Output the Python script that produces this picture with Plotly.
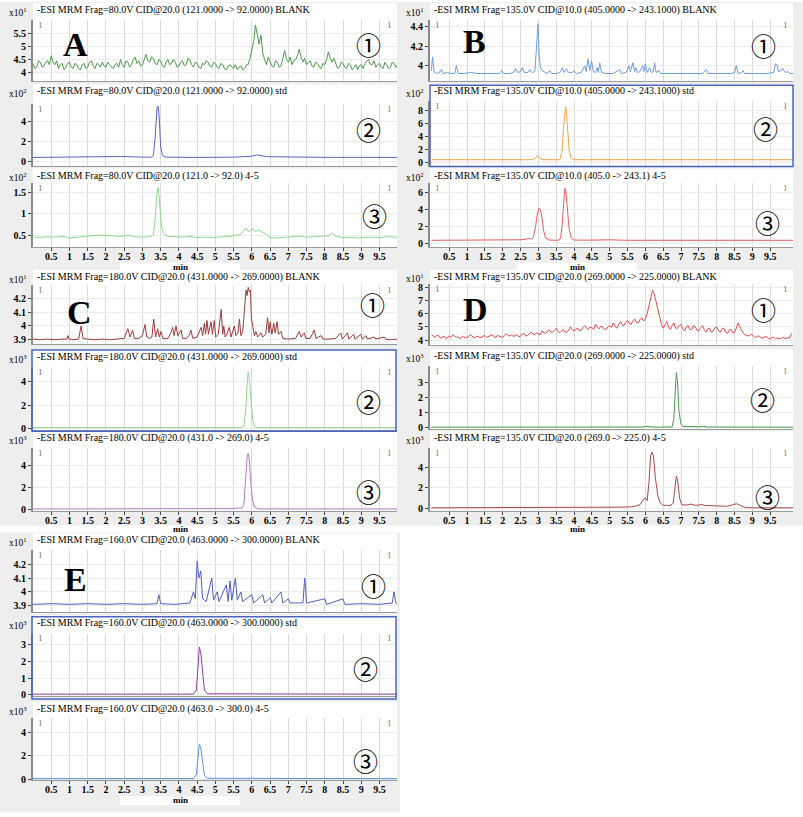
import plotly.graph_objects as go

W, H = 803, 817

# ------------------------------------------------------------------ data
# uniformly sampled noisy BLANK traces (minutes start at 0, step below)
A1_STEP = 0.05
a1_blank = [4.35, 4.15, 4.2, 4.45, 4.4, 4.2, 4.25, 4.4, 4.45, 4.3, 4.65, 4.4, 4.3, 4.45, 4.15, 4.3, 4.35, 4.1, 4.2, 4.35,
            4.4, 4.2, 4.15, 4.35, 4.3, 4.15, 4.1, 4.3, 4.35, 4.15, 4.2, 4.4, 4.45, 4.25, 4.15, 4.35, 4.3, 4.2, 4.4, 4.25,
            4.2, 4.4, 4.3, 4.2, 4.15, 4.3, 4.35, 4.2, 4.5, 4.3, 4.2, 4.45, 4.4, 4.2, 4.3, 4.5, 4.6, 4.35, 4.45, 4.25,
            4.3, 4.5, 4.7, 4.45, 4.4, 4.6, 4.55, 4.35, 4.3, 4.5, 4.45, 4.25, 4.2, 4.4, 4.5, 4.3, 4.35, 4.5, 4.4, 4.2,
            4.25, 4.4, 4.45, 4.25, 4.3, 4.55, 4.5, 4.3, 4.2, 4.4, 4.35, 4.2, 4.15, 4.35, 4.3, 4.45, 4.4, 4.25, 4.2, 4.4,
            4.35, 4.2, 4.15, 4.35, 4.3, 4.15, 4.1, 4.25, 4.3, 4.2, 4.15, 4.3, 4.1, 4.2, 4.25, 4.1, 4.15, 4.3, 4.3, 4.55,
            4.95, 5.2, 5.85, 5.4, 5.1, 5.45, 4.75, 4.5, 4.3, 4.6, 4.45, 4.25, 4.2, 4.45, 4.4, 4.2, 4.25, 4.6, 4.85, 4.5,
            4.4, 4.6, 4.3, 4.45, 4.5, 4.65, 4.9, 4.6, 4.4, 4.55, 4.3, 4.4, 4.45, 4.25, 4.2, 4.4, 4.35, 4.2, 4.15, 4.35,
            4.3, 4.5, 4.8, 4.55, 4.4, 4.55, 4.3, 4.15, 4.2, 4.4, 4.35, 4.2, 4.15, 4.35, 4.3, 4.1, 4.2, 4.3, 4.1, 4.25,
            4.3, 4.15, 4.35, 4.45, 4.5, 4.3, 4.3, 4.45, 4.2, 4.3, 4.35, 4.2, 4.15, 4.4, 4.3, 4.15, 4.2, 4.4, 4.35, 4.2,
            4.3]

D1_STEP = 0.05
d1_blank = [4.4, 4.3, 4.2, 4.35, 4.35, 4.15, 4.25, 4.3, 4.1, 4.2, 4.3, 4.2, 4.4, 4.3, 4.2, 4.25, 4.1, 4.2, 4.3, 4.15,
            4.2, 4.3, 4.4, 4.25, 4.15, 4.25, 4.3, 4.2, 4.2, 4.3, 4.35, 4.2, 4.25, 4.35, 4.4, 4.25, 4.2, 4.35, 4.3, 4.25,
            4.2, 4.35, 4.5, 4.35, 4.3, 4.4, 4.25, 4.35, 4.4, 4.25, 4.3, 4.45, 4.5, 4.3, 4.35, 4.5, 4.6, 4.45, 4.4, 4.55,
            4.5, 4.4, 4.7, 4.55, 4.5, 4.65, 4.8, 4.6, 4.6, 4.75, 4.9, 4.65, 4.55, 4.7, 4.8, 4.6, 4.6, 4.75, 5.0, 4.8,
            4.7, 4.85, 4.9, 4.7, 4.75, 4.95, 5.1, 4.9, 4.8, 5.0, 4.95, 4.8, 5.2, 5.0, 4.85, 5.05, 5.0, 4.85, 4.8, 5.0,
            5.1, 4.95, 5.3, 5.05, 4.9, 5.2, 5.4, 5.15, 5.1, 5.35, 5.5, 5.25, 5.2, 5.45, 5.6, 5.35, 5.3, 5.55, 5.7, 5.45,
            5.6, 6.0, 6.6, 7.3, 7.8, 7.5, 6.9, 6.2, 5.6, 5.2, 4.9, 5.2, 5.4, 5.0, 4.8, 5.1, 5.3, 4.9, 4.9, 5.1,
            5.2, 4.85, 4.7, 5.0, 5.1, 4.8, 4.8, 5.1, 5.0, 4.75, 4.7, 4.95, 5.1, 4.8, 4.6, 4.85, 4.9, 4.6, 4.7, 4.95,
            5.0, 4.7, 4.6, 4.85, 4.9, 4.6, 4.5, 4.75, 4.8, 4.55, 4.6, 4.9, 5.3, 5.0, 4.7, 4.5, 4.4, 4.35, 4.3, 4.4,
            4.4, 4.25, 4.2, 4.3, 4.3, 4.15, 4.15, 4.25, 4.25, 4.1, 4.1, 4.2, 4.2, 4.1, 4.15, 4.1, 4.1, 4.2, 4.15, 4.1,
            4.2, 4.15, 4.5]

# (minute, intensity) samples
a2_std = [(0, 0.42), (1, 0.45), (2, 0.5), (2.5, 0.52), (3.0, 0.45), (3.25, 0.45),
          (3.3, 0.6), (3.35, 2.5), (3.4, 5.4), (3.43, 5.6), (3.46, 4.5), (3.5, 1.5),
          (3.55, 0.6), (3.65, 0.45), (4.5, 0.42), (5.5, 0.45), (6.0, 0.55),
          (6.15, 0.68), (6.4, 0.5), (7, 0.45), (8, 0.43), (9, 0.43), (10, 0.42)]

a3_sample = [(0, 0.5), (0.05, 0.45), (0.2, 0.44), (0.4, 0.46), (0.6, 0.45), (0.8, 0.47),
             (1.0, 0.43), (1.2, 0.45), (1.4, 0.47), (1.6, 0.48), (1.8, 0.5), (2.0, 0.49),
             (2.2, 0.48), (2.4, 0.47), (2.6, 0.5), (2.8, 0.46), (3.0, 0.45), (3.2, 0.46),
             (3.3, 0.5), (3.35, 0.9), (3.4, 1.5), (3.43, 1.63), (3.46, 1.4), (3.5, 0.9),
             (3.55, 0.6), (3.6, 0.52), (3.7, 0.47), (3.9, 0.46), (4.1, 0.45), (4.3, 0.47),
             (4.5, 0.44), (4.7, 0.45), (4.9, 0.44), (5.1, 0.45), (5.3, 0.46), (5.5, 0.48),
             (5.7, 0.52), (5.84, 0.67), (5.9, 0.58), (6.0, 0.62), (6.05, 0.65), (6.1, 0.58),
             (6.2, 0.62), (6.3, 0.57), (6.4, 0.52), (6.5, 0.44), (6.7, 0.43), (6.9, 0.45),
             (7.1, 0.46), (7.3, 0.47), (7.5, 0.45), (7.7, 0.46), (7.9, 0.46), (8.1, 0.48),
             (8.2, 0.55), (8.3, 0.47), (8.5, 0.44), (8.7, 0.45), (8.9, 0.43), (9.1, 0.44),
             (9.3, 0.45), (9.5, 0.44), (9.7, 0.46), (9.9, 0.45), (10, 0.44)]

b1_blank = [(0.00, 3.95), (0.03, 4.09), (0.08, 3.93), (0.15, 3.92), (0.22, 3.93), (0.28, 3.96),
            (0.33, 3.92), (0.45, 3.93), (0.55, 3.92), (0.65, 3.92), (0.70, 4.0), (0.75, 3.92),
            (0.9, 3.92), (1.1, 3.93), (1.3, 3.92), (1.5, 3.92), (1.7, 3.92), (1.9, 3.92),
            (1.97, 3.95), (2.03, 3.92), (2.2, 3.92), (2.3, 3.93), (2.36, 3.97), (2.42, 3.93),
            (2.5, 3.94), (2.55, 3.98), (2.6, 3.93), (2.7, 3.93), (2.76, 3.96), (2.82, 3.93),
            (2.9, 3.94), (2.96, 4.35), (2.99, 4.43), (3.02, 4.1), (3.06, 3.98), (3.1, 3.95),
            (3.18, 3.93), (3.25, 3.92), (3.32, 3.95), (3.38, 3.92), (3.5, 3.92), (3.6, 3.93),
            (3.67, 3.98), (3.72, 3.93), (3.79, 3.97), (3.84, 3.93), (3.95, 3.93), (4.0, 3.95),
            (4.06, 3.92), (4.2, 3.93), (4.3, 4.0), (4.34, 3.94), (4.39, 4.07), (4.44, 3.95),
            (4.49, 4.05), (4.54, 3.94), (4.6, 3.93), (4.65, 3.98), (4.68, 3.93), (4.72, 4.03),
            (4.77, 3.93), (4.9, 3.92), (5.1, 3.92), (5.28, 3.96), (5.33, 3.92), (5.45, 3.93),
            (5.5, 3.96), (5.54, 4.0), (5.58, 3.94), (5.65, 4.03), (5.7, 3.94), (5.73, 3.98),
            (5.78, 3.93), (5.85, 3.94), (5.92, 4.0), (5.96, 3.94), (6.0, 4.02), (6.05, 3.93),
            (6.12, 3.98), (6.17, 3.93), (6.22, 3.94), (6.26, 4.03), (6.3, 3.93), (6.38, 3.95),
            (6.43, 3.92), (6.6, 3.92), (6.8, 3.92), (7.0, 3.92), (7.2, 3.92), (7.4, 3.92),
            (7.6, 3.92), (7.71, 3.96), (7.76, 3.92), (8.0, 3.92), (8.2, 3.92), (8.4, 3.92),
            (8.5, 3.93), (8.55, 4.0), (8.6, 3.92), (8.7, 3.93), (8.74, 3.95), (8.78, 3.92),
            (9.0, 3.92), (9.2, 3.92), (9.4, 3.92), (9.6, 3.93), (9.65, 4.02), (9.69, 4.01),
            (9.73, 3.94), (9.8, 3.95), (9.86, 3.97), (9.92, 3.93), (10.0, 3.94), (10.05, 3.92),
            (10.14, 3.92)]

b2_std = [(0, 0.4), (2.85, 0.4), (2.92, 0.7), (2.97, 1.0), (3.02, 0.75), (3.1, 0.4),
          (3.6, 0.4), (3.66, 1.5), (3.7, 5.0), (3.74, 8.0), (3.76, 8.5), (3.78, 8.1),
          (3.82, 5.0), (3.86, 2.0), (3.92, 0.6), (4.0, 0.4), (10.14, 0.4)]

b3_sample = [(0, 0.42), (1.0, 0.42), (1.4, 0.45), (2.0, 0.44), (2.3, 0.5), (2.5, 0.48),
             (2.7, 0.6), (2.75, 0.65), (2.8, 0.55), (2.86, 0.8), (2.92, 2.0), (2.97, 3.5),
             (3.02, 4.2), (3.06, 4.0), (3.1, 3.0), (3.15, 1.5), (3.2, 0.7), (3.3, 0.45),
             (3.55, 0.42), (3.62, 0.6), (3.66, 2.0), (3.7, 4.8), (3.74, 6.5), (3.77, 6.2),
             (3.81, 4.0), (3.86, 1.8), (3.92, 0.7), (4.0, 0.45), (4.5, 0.44), (5.0, 0.48),
             (5.5, 0.42), (6.5, 0.45), (7.3, 0.45), (8, 0.42), (10.14, 0.42)]

c1_blank = [(0.0, 3.905), (0.2, 3.9), (0.4, 3.905), (0.6, 3.9), (0.8, 3.905), (0.93, 3.905),
            (0.96, 3.93), (0.99, 3.905), (1.1, 3.9), (1.25, 3.905), (1.32, 4.0), (1.37, 3.91),
            (1.5, 3.905), (1.7, 3.9), (1.9, 3.905), (2.1, 3.9), (2.3, 3.905), (2.5, 3.91),
            (2.6, 3.98), (2.66, 3.92), (2.73, 3.97), (2.78, 3.91), (2.9, 3.91), (3.0, 3.93),
            (3.07, 4.01), (3.12, 3.92), (3.2, 3.91), (3.26, 3.92), (3.31, 4.05), (3.36, 3.92),
            (3.42, 3.98), (3.46, 3.92), (3.51, 3.96), (3.56, 3.91), (3.7, 3.91), (3.78, 3.95),
            (3.83, 3.99), (3.87, 3.93), (3.92, 4.0), (3.97, 3.93), (4.06, 3.97), (4.1, 3.91),
            (4.2, 3.91), (4.28, 3.93), (4.33, 3.97), (4.38, 3.91), (4.5, 3.92), (4.56, 3.96),
            (4.61, 3.99), (4.65, 3.93), (4.7, 4.02), (4.73, 3.94), (4.77, 4.04), (4.81, 3.94),
            (4.88, 4.03), (4.92, 3.94), (4.97, 4.04), (5.01, 3.92), (5.08, 3.94), (5.16, 4.12),
            (5.2, 3.94), (5.23, 4.0), (5.27, 3.92), (5.33, 3.95), (5.38, 3.99), (5.43, 3.92),
            (5.52, 4.0), (5.56, 3.93), (5.62, 3.95), (5.66, 4.05), (5.7, 3.93), (5.75, 3.96),
            (5.79, 4.1), (5.84, 4.26), (5.87, 4.22), (5.9, 4.28), (5.93, 4.25), (5.96, 4.26),
            (5.99, 4.05), (6.03, 3.97), (6.07, 3.93), (6.11, 3.96), (6.16, 3.92), (6.25, 3.95),
            (6.3, 3.92), (6.38, 3.94), (6.43, 4.06), (6.47, 3.95), (6.5, 4.03), (6.55, 3.94),
            (6.6, 4.02), (6.64, 3.95), (6.69, 4.03), (6.73, 3.94), (6.8, 3.96), (6.85, 3.91),
            (7.0, 3.905), (7.2, 3.91), (7.3, 3.96), (7.35, 3.92), (7.44, 3.95), (7.48, 3.91),
            (7.6, 3.91), (7.71, 3.97), (7.76, 3.91), (7.9, 3.93), (7.95, 3.905), (8.1, 3.905),
            (8.3, 3.91), (8.44, 3.95), (8.48, 3.905), (8.62, 3.95), (8.66, 3.905), (8.79, 3.94),
            (8.83, 3.905), (8.99, 3.94), (9.03, 3.905), (9.13, 3.93), (9.17, 3.905), (9.36, 3.92),
            (9.4, 3.905), (9.63, 3.92), (9.67, 3.905), (9.8, 3.9), (10.0, 3.905)]

c2_std = [(0, 0.08), (5.7, 0.08), (5.78, 0.2), (5.83, 1.5), (5.87, 3.8), (5.9, 4.83),
          (5.93, 4.3), (5.97, 2.5), (6.02, 0.8), (6.07, 0.15), (6.15, 0.08), (10, 0.08)]

c3_sample = [(0, 0.07), (5.0, 0.07), (5.07, 0.12), (5.12, 0.07), (5.5, 0.1), (5.64, 0.17),
             (5.72, 0.12), (5.78, 0.4), (5.83, 3.0), (5.87, 4.8), (5.9, 5.13), (5.93, 4.6),
             (5.97, 2.5), (6.02, 0.8), (6.08, 0.2), (6.2, 0.08), (10, 0.07)]

d2_std = [(0, 0.03), (4.1, 0.03), (4.2, 0.06), (4.3, 0.03), (5.9, 0.04), (6.0, 0.08),
          (6.15, 0.07), (6.3, 0.03), (6.75, 0.05), (6.8, 0.6), (6.84, 2.5), (6.87, 3.62),
          (6.9, 3.0), (6.94, 1.2), (6.99, 0.3), (7.05, 0.08), (7.5, 0.06), (7.62, 0.09),
          (7.75, 0.04), (10.14, 0.03)]

d3_sample = [(0, 0.05), (5.3, 0.05), (5.4, 0.12), (5.6, 0.15), (5.7, 0.2), (5.85, 0.35),
             (5.95, 0.9), (6.0, 1.0), (6.05, 0.75), (6.1, 2.5), (6.15, 5.2), (6.19, 5.45),
             (6.23, 5.0), (6.28, 3.0), (6.35, 1.2), (6.42, 0.5), (6.5, 0.3), (6.7, 0.28),
             (6.78, 0.5), (6.83, 2.0), (6.87, 3.15), (6.91, 2.6), (6.96, 1.0), (7.02, 0.35),
             (7.15, 0.32), (7.28, 0.42), (7.38, 0.3), (7.5, 0.32), (7.57, 0.4), (7.65, 0.28),
             (8.0, 0.2), (8.3, 0.2), (8.45, 0.35), (8.56, 0.45), (8.65, 0.3), (8.8, 0.08),
             (9.0, 0.05), (10.14, 0.05)]

e1_blank = [(0, 3.91), (0.5, 3.915), (1.0, 3.91), (1.5, 3.915), (2.0, 3.91), (2.5, 3.915),
            (3.0, 3.91), (3.4, 3.915), (3.45, 3.98), (3.5, 3.915), (3.9, 3.91), (4.3, 3.92),
            (4.4, 4.0), (4.45, 3.95), (4.5, 4.22), (4.55, 4.1), (4.6, 4.15), (4.65, 3.95),
            (4.75, 3.93), (4.85, 4.05), (4.9, 4.1), (4.95, 3.94), (5.05, 4.0), (5.1, 3.93),
            (5.3, 4.05), (5.35, 3.93), (5.4, 4.08), (5.45, 3.94), (5.5, 4.03), (5.55, 4.1),
            (5.6, 3.94), (5.7, 4.0), (5.75, 3.93), (6.0, 3.98), (6.05, 3.92), (6.3, 3.98),
            (6.35, 3.92), (6.5, 3.96), (6.55, 3.92), (6.8, 4.0), (6.85, 3.92), (7.0, 3.95),
            (7.05, 3.92), (7.4, 3.92), (7.45, 4.1), (7.5, 3.92), (8.0, 3.95), (8.05, 3.91),
            (8.5, 3.95), (8.55, 3.91), (9.0, 3.915), (9.5, 3.91), (9.85, 3.92), (9.9, 4.0),
            (9.95, 3.92), (10.0, 3.91)]

e2_std = [(0, 0.05), (4.4, 0.05), (4.48, 0.3), (4.52, 1.8), (4.56, 2.85), (4.6, 2.5),
          (4.65, 1.2), (4.7, 0.3), (4.78, 0.07), (10, 0.05)]

e3_sample = [(0, 0.05), (4.4, 0.06), (4.48, 0.4), (4.52, 2.0), (4.56, 3.0), (4.6, 2.7),
             (4.65, 1.3), (4.7, 0.35), (4.78, 0.08), (10, 0.05)]

x_tick_vals = [0.5, 1, 1.5, 2, 2.5, 3, 3.5, 4, 4.5, 5, 5.5, 6, 6.5, 7, 7.5, 8, 8.5, 9, 9.5]

titles = {
    'A1': '-ESI MRM Frag=80.0V CID@20.0 (121.0000 -> 92.0000) BLANK',
    'A2': '-ESI MRM Frag=80.0V CID@20.0 (121.0000 -> 92.0000) std',
    'A3': '-ESI MRM Frag=80.0V CID@20.0 (121.0 -> 92.0) 4-5',
    'B1': '-ESI MRM Frag=135.0V CID@10.0 (405.0000 -> 243.1000) BLANK',
    'B2': '-ESI MRM Frag=135.0V CID@10.0 (405.0000 -> 243.1000) std',
    'B3': '-ESI MRM Frag=135.0V CID@10.0 (405.0 -> 243.1) 4-5',
    'C1': '-ESI MRM Frag=180.0V CID@20.0 (431.0000 -> 269.0000) BLANK',
    'C2': '-ESI MRM Frag=180.0V CID@20.0 (431.0000 -> 269.0000) std',
    'C3': '-ESI MRM Frag=180.0V CID@20.0 (431.0 -> 269.0) 4-5',
    'D1': '-ESI MRM Frag=135.0V CID@20.0 (269.0000 -> 225.0000) BLANK',
    'D2': '-ESI MRM Frag=135.0V CID@20.0 (269.0000 -> 225.0000) std',
    'D3': '-ESI MRM Frag=135.0V CID@20.0 (269.0 -> 225.0) 4-5',
    'E1': '-ESI MRM Frag=160.0V CID@20.0 (463.0000 -> 300.0000) BLANK',
    'E2': '-ESI MRM Frag=160.0V CID@20.0 (463.0000 -> 300.0000) std',
    'E3': '-ESI MRM Frag=160.0V CID@20.0 (463.0 -> 300.0) 4-5',
}

# ------------------------------------------------------------------ layout spec
XR_L = (0.0, 9.98)
XR_R = (-0.04, 10.14)
panels = [
    dict(k='A1', data=a1_blank, step=A1_STEP, color='#4a9a4a', box=(33, 18, 397, 80), hdr=8,
         yr=(3.65, 6.05), yt=[4, 4.5, 5, 5.5], exp=1, xr=XR_L, circ='①', cpos=(368, 42)),
    dict(k='A2', data=a2_std, color='#5b63c8', box=(33, 103, 397, 165), hdr=90,
         yr=(-0.4, 5.8), yt=[0, 2, 4], exp=2, xr=XR_L, circ='②', cpos=(368, 128)),
    dict(k='A3', data=a3_sample, color='#8ed88e', box=(33, 183, 397, 247), hdr=175,
         yr=(0.22, 1.72), yt=[0.5, 1, 1.5], exp=2, xr=XR_L, circ='③', cpos=(374, 215), last=True),
    dict(k='B1', data=b1_blank, color='#6e9de0', box=(430, 18, 793, 80), hdr=8,
         yr=(3.84, 4.47), yt=[4, 4.2, 4.4], exp=1, xr=XR_R, circ='①', cpos=(763, 43)),
    dict(k='B2', data=b2_std, color='#f2a444', box=(430, 100, 793, 165), hdr=90,
         yr=(-0.5, 9.36), yt=[0, 2, 4, 6, 8], exp=2, xr=XR_R, circ='②', cpos=(765, 127),
         border=(430, 84, 793, 166)),
    dict(k='B3', data=b3_sample, color='#e45c5c', box=(430, 183, 793, 247), hdr=175,
         yr=(-0.35, 7.09), yt=[0, 2, 4, 6], exp=2, xr=XR_R, circ='③', cpos=(767, 222), last=True),
    dict(k='C1', data=c1_blank, color='#9e3a3a', box=(33, 285, 397, 345), hdr=277,
         yr=(3.869, 4.30), yt=[3.9, 4, 4.1, 4.2], exp=1, xr=XR_L, circ='①', cpos=(372, 305)),
    dict(k='C2', data=c2_std, color='#8ad88a', box=(33, 368, 397, 432), hdr=358,
         yr=(-0.15, 5.29), yt=[0, 2, 4], exp=3, xr=XR_L, circ='②', cpos=(368, 402),
         border=(32, 351, 396, 433)),
    dict(k='C3', data=c3_sample, color='#b478c8', box=(33, 450, 397, 513), hdr=440,
         yr=(-0.08, 5.6), yt=[0, 2, 4], exp=3, xr=XR_L, circ='③', cpos=(368, 493), last=True),
    dict(k='D1', data=d1_blank, step=D1_STEP, color='#e84848', box=(430, 284, 793, 346), hdr=277,
         yr=(3.62, 8.3), yt=[4, 5, 6, 7, 8], exp=1, xr=XR_R, circ='①', cpos=(763, 310),
         expdy=-1),
    dict(k='D2', data=d2_std, color='#4e9a4e', box=(430, 367, 793, 431), hdr=357,
         yr=(-0.11, 4.08), yt=[0, 1, 2, 3], exp=3, xr=XR_R, circ='②', cpos=(762, 400)),
    dict(k='D3', data=d3_sample, color='#a84848', box=(430, 450, 793, 513), hdr=440,
         yr=(-0.22, 5.86), yt=[0, 2, 4], exp=3, xr=XR_R, circ='③', cpos=(767, 498), last=True),
    dict(k='E1', data=e1_blank, color='#5060c0', box=(33, 553, 397, 615), hdr=543,
         yr=(3.857, 4.3), yt=[3.9, 4, 4.1, 4.2], exp=1, xr=XR_L, circ='①', cpos=(373, 588)),
    dict(k='E2', data=e2_std, color='#8e3ea0', box=(33, 637, 397, 700), hdr=626,
         yr=(-0.06, 3.65), yt=[0, 1, 2, 3], exp=3, xr=XR_L, circ='②', cpos=(365, 672),
         border=(32, 620, 396, 703)),
    dict(k='E3', data=e3_sample, color='#5c8fe0', box=(33, 722, 397, 785), hdr=713,
         yr=(-0.09, 5.28), yt=[0, 2, 4], exp=3, xr=XR_L, circ='③', cpos=(365, 765), last=True),
]

groups = [(0, 0, 400, 262), (400, 0, 803, 262), (0, 262, 400, 528),
          (400, 262, 803, 528), (0, 535, 400, 817)]
letters = [('A', 75, 43), ('B', 474, 40), ('C', 79, 313), ('D', 475, 310), ('E', 75, 582)]
min_labels = [(180, 267), (577, 267), (180, 532), (577, 532), (180, 805)]


def px(x):
    return x / W


def py(y):
    return 1 - y / H


SERIF = 'Liberation Serif, Times New Roman, serif'

fig = go.Figure()
shapes = []
annotations = []
layout_axes = {}

for (x0, y0, x1, y1) in groups:
    shapes.append(dict(type='rect', xref='paper', yref='paper', x0=px(x0), x1=px(x1),
                       y0=py(y1), y1=py(y0), fillcolor='#eeeeee', line=dict(width=0),
                       layer='below'))

for i, p in enumerate(panels, start=1):
    l, t, r, b = p['box']
    shapes.append(dict(type='rect', xref='paper', yref='paper', x0=px(l), x1=px(r),
                       y0=py(b), y1=py(p['hdr'] - 7), fillcolor='white',
                       line=dict(width=0), layer='below'))
    if 'border' in p:
        bl, bt, br, bb = p['border']
        shapes.append(dict(type='rect', xref='paper', yref='paper', x0=px(bl), x1=px(br),
                           y0=py(bb), y1=py(bt), fillcolor='rgba(0,0,0,0)',
                           line=dict(color='#4a64c0', width=1.5), layer='above'))
    if 'step' in p:
        tr = go.Scatter(y=p['data'], x0=0, dx=p['step'])
    else:
        tr = go.Scatter(x=[q[0] for q in p['data']], y=[q[1] for q in p['data']])
    tr.update(mode='lines', line=dict(color=p['color'], width=1), hoverinfo='skip',
              showlegend=False, xaxis='x%d' % i, yaxis='y%d' % i)
    fig.add_trace(tr)

    last = p.get('last', False)
    xa = dict(domain=[px(l), px(r)], range=list(p['xr']), anchor='y%d' % i,
              tickvals=x_tick_vals, ticktext=['<b>%g</b>' % v for v in x_tick_vals],
              showticklabels=last, ticks='outside' if last else '', ticklen=3,
              ticklabelstandoff=-3,
              tickcolor='#444', showgrid=True, gridcolor='#dadada', gridwidth=1,
              zeroline=False, showline=True, linecolor='#9a9a9a', linewidth=1,
              tickfont=dict(family=SERIF, size=10, color='black'), fixedrange=True)
    ya = dict(domain=[py(b), py(t)], range=list(p['yr']), anchor='x%d' % i,
              tickvals=p['yt'], ticktext=['<b>%g</b>' % v for v in p['yt']],
              ticks='outside', ticklen=3, tickcolor='#444', showgrid=True,
              gridcolor='#ececec', zeroline=False, showline=True, linecolor='#8a8a8a',
              linewidth=2, tickfont=dict(family=SERIF, size=10, color='black'),
              fixedrange=True)
    layout_axes['xaxis%d' % i] = xa
    layout_axes['yaxis%d' % i] = ya

    annotations.append(dict(xref='paper', yref='paper', x=px(l + 2), y=py(p['hdr']),
                            xanchor='left', yanchor='middle', showarrow=False,
                            text=titles[p['k']],
                            font=dict(family=SERIF, size=10, color='black')))
    annotations.append(dict(xref='paper', yref='paper', x=px(l - 15),
                            y=py(p['hdr'] + 2 + p.get('expdy', 0)),
                            xanchor='center', yanchor='middle', showarrow=False,
                            text='x10<sup>%d</sup>' % p['exp'],
                            font=dict(family=SERIF, size=9.5, color='black')))
    for cx, anc in ((l + 3, 'left'), (r - 3, 'right')):
        annotations.append(dict(xref='paper', yref='paper', x=px(cx), y=py(t + 5),
                                xanchor=anc, yanchor='middle', showarrow=False, text='1',
                                font=dict(family=SERIF, size=9, color='#777777')))
    cx, cy = p['cpos']
    annotations.append(dict(xref='paper', yref='paper', x=px(cx), y=py(cy),
                            xanchor='center', yanchor='middle', showarrow=False,
                            text=p['circ'],
                            font=dict(family='Noto Sans CJK SC, DejaVu Sans', size=25,
                                      color='black')))

for (ch, lx, ly) in letters:
    annotations.append(dict(xref='paper', yref='paper', x=px(lx), y=py(ly),
                            xanchor='center', yanchor='middle', showarrow=False,
                            text='<b>%s</b>' % ch,
                            font=dict(family=SERIF, size=34, color='black')))

for (mx, my) in min_labels:
    shapes.append(dict(type='rect', xref='paper', yref='paper', x0=px(mx - 60),
                       x1=px(mx + 60), y0=py(my + 5), y1=py(my - 4), fillcolor='white',
                       line=dict(width=0), layer='below'))
    annotations.append(dict(xref='paper', yref='paper', x=px(mx), y=py(my),
                            xanchor='center', yanchor='middle', showarrow=False,
                            text='<b>min</b>',
                            font=dict(family=SERIF, size=9, color='black')))

fig.update_layout(width=W, height=H, autosize=False,
                  margin=dict(l=0, r=0, t=0, b=0, pad=0),
                  paper_bgcolor='white', plot_bgcolor='white',
                  shapes=shapes, annotations=annotations, **layout_axes)

fig.write_html('out.html', config={'displayModeBar': False})
